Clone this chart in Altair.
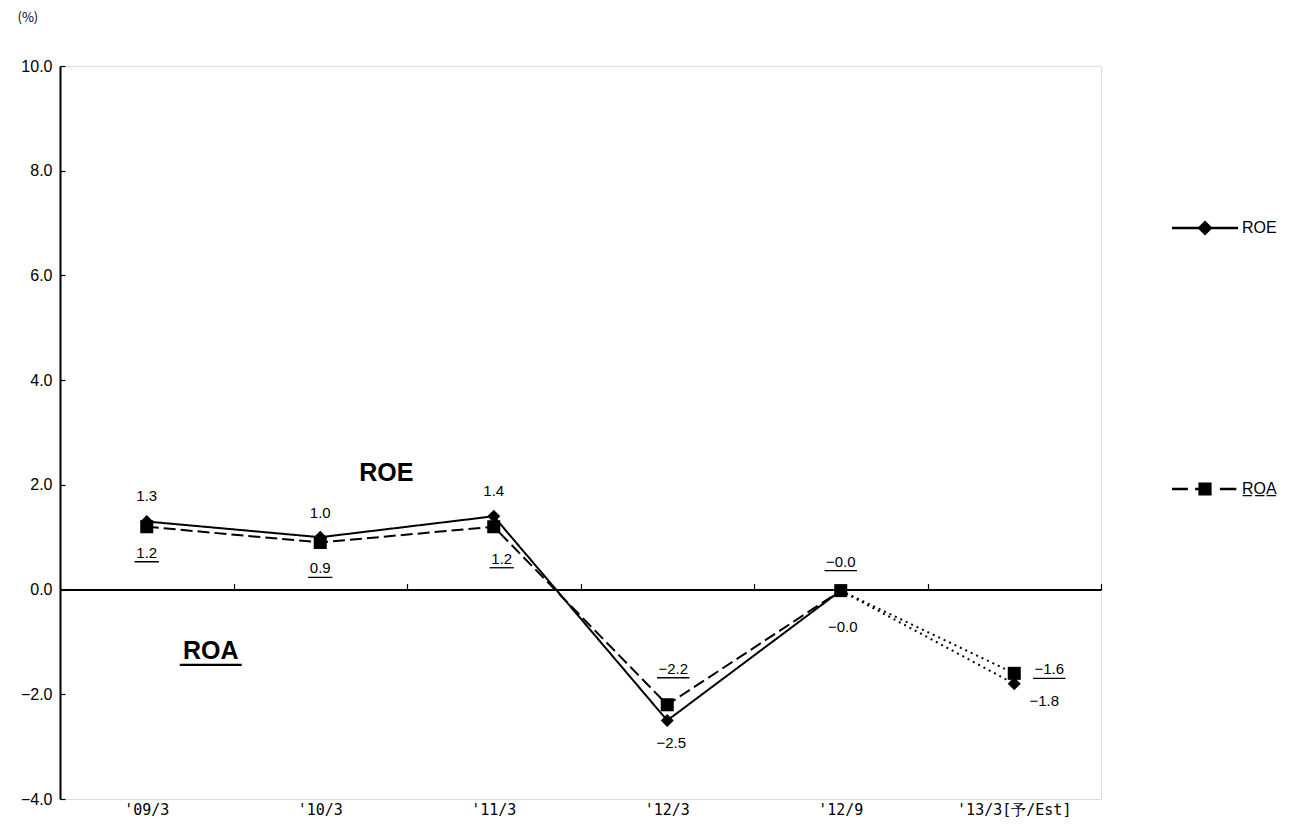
import altair as alt
import pandas as pd

categories = ["'09/3", "'10/3", "'11/3", "'12/3", "'12/9", "'13/3[予/Est]"]
series_names = ["ROE", "ROA"]
roe = [1.3, 1.0, 1.4, -2.5, -0.02, -1.8]
roa = [1.2, 0.9, 1.2, -2.2, -0.02, -1.6]

# label placement offsets in pixels (layout, not data)
roe_label_dx = [0, 0, 0, 4, 2, 30]
roe_label_dy = [-26, -24, -25, 23, 36, 17]
roa_label_dx = [0, 0, 8, 6, 0, 35]
roa_label_dy = [26, 26, 32, -36, -29, -4]

ann_text = ["ROE", "ROA"]
ann_cat = ["'10/3", "'09/3"]
ann_value = [2.23, -1.17]
ann_dx = [66, 64]

N_ACTUAL = 5  # first 5 points actual, last segment is estimate


def fmt(v):
    return f"{v:.1f}".replace("-", "\u2212")


# ---- line data (segments) ----
line_rows = []
for s, vals in zip(series_names, [roe, roa]):
    for i in range(N_ACTUAL):
        line_rows.append(dict(cat=categories[i], value=vals[i], series=s,
                              style=f"{s}-act", grp=f"{s}-act"))
    for i in range(N_ACTUAL - 1, len(categories)):
        line_rows.append(dict(cat=categories[i], value=vals[i], series=s,
                              style="est", grp=f"{s}-est"))
line_df = pd.DataFrame(line_rows)

# ---- point / label data ----
pt_rows = []
for s, vals in [("ROE", roe), ("ROA", roa)]:
    for i, (c, v) in enumerate(zip(categories, vals)):
        pt_rows.append(dict(key=f"{s}{i}", cat=c, value=v, series=s, label=fmt(v)))
pt_df = pd.DataFrame(pt_rows)

ann_df = pd.DataFrame(dict(cat=ann_cat, value=ann_value, text=ann_text))
legend_df = pd.DataFrame(dict(series=series_names))

W, H = 1041, 733
YMIN, YMAX = -4, 10
YTICKS = [-4, -2, 0, 2, 4, 6, 8, 10]

xscale = alt.Scale(type="band", domain=categories, paddingInner=0, paddingOuter=0)
yscale = alt.Scale(domain=[YMIN, YMAX], nice=False, zero=False)

x_top = alt.X("cat:N", scale=xscale, axis=alt.Axis(
    orient="top", offset=-H * YMAX / (YMAX - YMIN), labels=False, ticks=True,
    tickSize=6, tickBand="extent", tickColor="black", tickWidth=1.2,
    domainColor="black", domainWidth=2, title=None, grid=False))
x_bottom = alt.X("cat:N", scale=xscale, axis=alt.Axis(
    orient="bottom", domain=False, ticks=False, labelAngle=0, labelPadding=3,
    labelFont="DejaVu Sans Mono", labelFontSize=15, labelFontWeight="normal",
    labelColor="black", title=None))
x_none = alt.X("cat:N", scale=xscale, axis=None)

y_left = alt.Y("value:Q", scale=yscale, axis=alt.Axis(
    values=YTICKS, format=".1f", grid=False, ticks=False,
    domainColor="black", domainWidth=2,
    labelFont="Liberation Sans", labelFontSize=16, labelColor="black", labelPadding=8,
    title="(%)", titleAngle=0, titleX=-43, titleY=-49, titleAlign="left",
    titleBaseline="middle", titleFontSize=13, titleFontWeight="normal",
    titleFont="Noto Sans CJK JP", titleColor="black"))
# inward tick marks on the value axis
y_inner = alt.Y("value:Q", scale=yscale, axis=alt.Axis(
    orient="right", offset=-W, values=YTICKS, grid=False, labels=False, domain=False,
    ticks=True, tickSize=5, tickColor="black", tickWidth=1.2, title=None))
Y = alt.Y("value:Q", scale=yscale, axis=None)

layers = []

layers.append(alt.Chart(line_df).mark_line(color="black", strokeWidth=2).encode(
    x=x_top, y=y_left,
    strokeDash=alt.StrokeDash("style:N", scale=alt.Scale(
        domain=["ROE-act", "ROA-act", "est"], range=[[1, 0], [12, 5], [2, 4]]), legend=None),
    detail="grp:N"))

pts_base = alt.Chart(pt_df)
layers.append(pts_base.transform_filter("datum.series == 'ROE'").mark_point(
    shape="diamond", filled=True, color="black", size=169, opacity=1).encode(x=x_bottom, y=y_inner))
layers.append(pts_base.transform_filter("datum.series == 'ROA'").mark_point(
    shape="square", filled=True, color="black", size=170, opacity=1).encode(x=x_none, y=Y))

# value labels (ROA labels underlined)
for s, dxs, dys in [("ROE", roe_label_dx, roe_label_dy), ("ROA", roa_label_dx, roa_label_dy)]:
    for i in range(len(categories)):
        key = f"{s}{i}"
        sub = pts_base.transform_filter(f"datum.key == '{key}'")
        layers.append(sub.mark_text(font="Liberation Sans", fontSize=15, color="black",
                                    baseline="middle", align="center",
                                    dx=dxs[i], dy=dys[i]).encode(x=x_none, y=Y, text="label:N"))
        if s == "ROA":
            lab = pt_df.loc[pt_df.key == key, "label"].iloc[0]
            layers.append(sub.mark_tick(orient="horizontal", color="black", thickness=1.3,
                                        opacity=1, size=len(lab) * 8.1,
                                        xOffset=dxs[i], yOffset=dys[i] + 9).encode(x=x_none, y=Y))

# annotations
ann_base = alt.Chart(ann_df)
for i, t in enumerate(ann_text):
    sub = ann_base.transform_filter(f"datum.text == '{t}'")
    layers.append(sub.mark_text(font="Liberation Sans", fontSize=25, fontWeight="bold",
                                color="black", baseline="middle", align="center",
                                dx=ann_dx[i]).encode(x=x_none, y=Y, text="text:N"))
    if t == "ROA":
        layers.append(sub.mark_tick(orient="horizontal", color="black", thickness=2.2,
                                    opacity=1, size=62, xOffset=ann_dx[i], yOffset=14).encode(
            x=x_none, y=Y))

# legend symbols as filled paths (line pieces drawn as thin bars)
roe_sym = "M-1,-0.035H1V0.035H-1Z M0,-0.23L0.23,0L0,0.23L-0.23,0Z"
roa_sym = ("M-1,-0.035H-0.52V0.035H-1Z M-0.3,-0.035H-0.2V0.035H-0.3Z "
           "M0.45,-0.035H0.95V0.035H0.45Z M-0.2,-0.2H0.2V0.2H-0.2Z")

layers.append(alt.Chart(legend_df).transform_filter("false").mark_point(
    filled=True, color="black", opacity=1).encode(
    shape=alt.Shape("series:N", scale=alt.Scale(domain=series_names, range=[roe_sym, roa_sym]),
                    legend=alt.Legend(
                        title=None, orient="none", legendX=1111, legendY=128,
                        rowPadding=216, symbolSize=4356, symbolFillColor="black",
                        labelFont="Liberation Sans", labelFontSize=16,
                        labelExpr="datum.label == 'ROA' ? 'R\u0332O\u0332A\u0332' : datum.label",
                        labelColor="black", labelOffset=3))))

chart = alt.layer(*layers).resolve_axis(x="independent", y="independent").properties(
    width=W, height=H, padding={"left": 9, "top": 3, "right": 0, "bottom": 0}
).configure_view(stroke="#707070", strokeWidth=1).configure(background="white")

chart.save("out.html", embed_options={"renderer": "svg", "actions": False})
